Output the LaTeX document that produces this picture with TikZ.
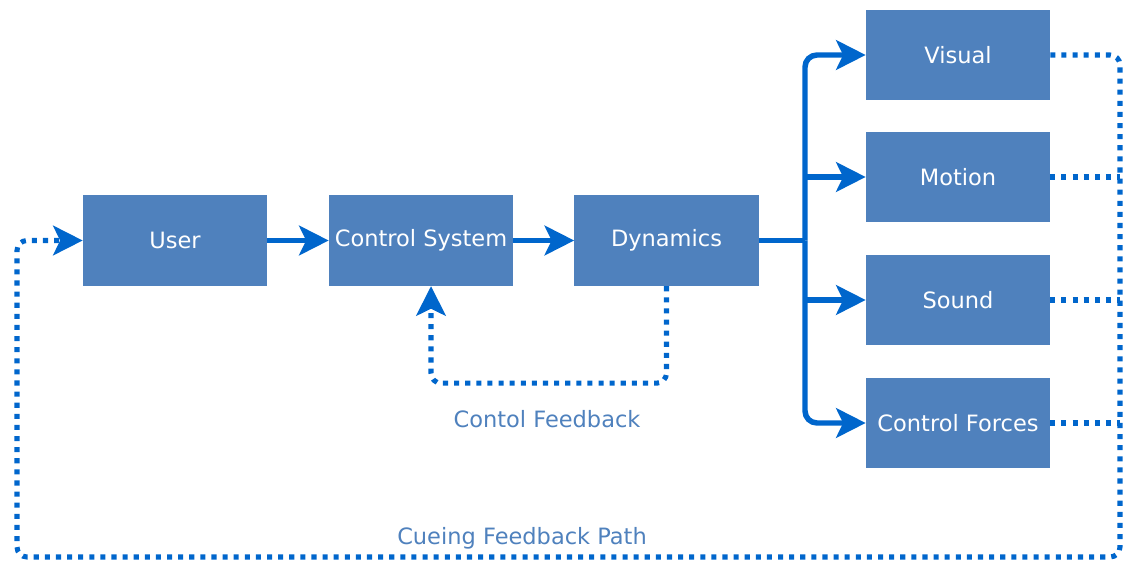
\documentclass[tikz,border=0pt]{standalone}
\usepackage{fontspec}
\setmainfont{DejaVu Sans}
\usetikzlibrary{positioning,arrows.meta}

\definecolor{boxblue}{HTML}{4F81BD}
\definecolor{linkblue}{HTML}{0066CC}

\begin{document}
\begin{tikzpicture}[x=0.025cm, y=-0.025cm,
	block/.style={fill=boxblue, text=white,
		minimum width=4.6cm, minimum height=2.27cm, inner sep=0pt,
		font=\fontsize{16}{19}\selectfont},
	flow/.style={draw=linkblue, line width=3.9pt, rounded corners=0.3cm},
	cue/.style={draw=linkblue, line width=3.6pt,
		dash pattern=on 3.6pt off 4.3pt, rounded corners=0.25cm},
	tip/.style={-{Stealth[length=21pt, width=21pt, inset=5pt]}},
	note/.style={text=boxblue, font=\fontsize{16}{19}\selectfont},
]

\useasboundingbox (0,0) rectangle (1126,564);

% User
\node [block] (user) at (175,240.5) {User};

% Control system
\node [block] (control_system) at (421,240.5) {Control System};

% Dynamics
\node [block] (dynamics) at (666.5,240.5) {Dynamics};

% Cues
\node [block] (visual) at (958,55) {Visual};
\node [block] (motion) at (958,177) {Motion};
\node [block] (sound) at (958,300) {Sound};
\node [block] (control_forces) at (958,423) {Control Forces};

% Labels
\node [note] (control_feedback) at (547,419) {Contol Feedback};
\node [note] (cueing_feedback) at (522,538) {Cueing Feedback Path};

% Junctions
\coordinate (split) at (805,240.5);
\coordinate (cue_bus) at (1120,557);
\coordinate (cue_return) at (17,240.5);



% Forward path
\draw[flow, tip] (user) -- (control_system);
\draw[flow, tip] (control_system) -- (dynamics);

\draw[flow] (dynamics) -- (split);
\draw[flow, tip] (split) |- (visual);
\draw[flow, tip] (split) |- (control_forces);
\draw[flow, tip] (split |- motion) -- (motion);
\draw[flow, tip] (split |- sound) -- (sound);

% Control feedback
\draw[cue, tip] (dynamics.south) -- ++(0,97) -| ([xshift=0.25cm]control_system.south);

% Cueing feedback
\draw[cue, tip] (visual) -| (cue_bus) -| (cue_return) -- (user);
\draw[cue] (motion) -- (motion -| cue_bus);
\draw[cue] (sound) -- (sound -| cue_bus);
\draw[cue] (control_forces) -- (control_forces -| cue_bus);

\end{tikzpicture}
\end{document}
